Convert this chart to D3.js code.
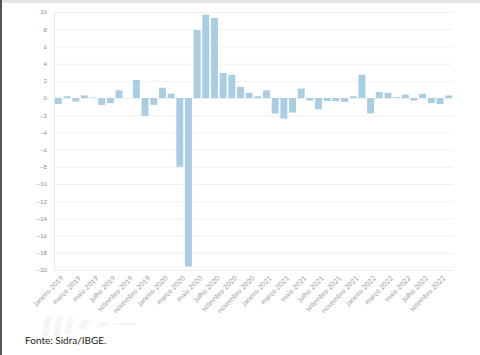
<!DOCTYPE html>
<html>
<head>
<meta charset="utf-8">
<script src="https://cdn.jsdelivr.net/npm/d3@7"></script>
<style>
  body { margin: 0; background: #fff; }
  svg { display: block; }
</style>
</head>
<body>
<div id="chart"></div>
<script>
// variação mensal (%) - jan/2019 a out/2022
var meses = ['janeiro', 'fevereiro', 'março', 'abril', 'maio', 'junho', 'julho', 'agosto', 'setembro', 'outubro', 'novembro', 'dezembro']
var anos = [2019, 2020, 2021, 2022]
var valores = [
  -0.7, 0.2, -0.4, 0.3, 0.05, -0.8, -0.6, 0.9, 0, 2.1, -2.1, -0.8,
  1.2, 0.5, -8.0, -19.6, 7.9, 9.7, 9.3, 2.9, 2.7, 1.3, 0.6, 0.2,
  0.9, -1.8, -2.4, -1.7, 1.1, -0.3, -1.3, -0.35, -0.35, -0.45, 0.2, 2.7,
  -1.8, 0.7, 0.6, 0.1, 0.4, -0.3, 0.5, -0.6, -0.7, 0.3
]
var yTicks = [10, 8, 6, 4, 2, 0, -2, -4, -6, -8, -10, -12, -14, -16, -18, -20]

var rotulos = []
anos.forEach(function(a) {
  meses.forEach(function(m) { rotulos.push(m + ' ' + a) })
})
rotulos = rotulos.slice(0, valores.length)
var data = valores.map(function(v, i) { return {'name': rotulos[i], 'valor': v} })

var width = 480
var height = 355

var svg = d3.select('#chart')
  .append('svg')
    .attr('width', width)
    .attr('height', height)

// moldura da captura
svg.append('rect').attr('x', 0).attr('y', 0).attr('width', width).attr('height', 3).attr('fill', '#e6e6e6')
svg.append('rect').attr('x', 0).attr('y', 0).attr('width', 2).attr('height', height).attr('fill', '#555')

var x = d3.scaleBand()
  .domain(rotulos)
  .range([54, 453])
  .paddingInner(0.2)
  .paddingOuter(0.1)

var y = d3.scaleLinear()
  .domain([-20, 10])
  .range([270, 12])

// grade
svg.append('g')
  .selectAll('line')
  .data(yTicks)
  .enter().append('line')
    .attr('x1', 54)
    .attr('x2', 453)
    .attr('y1', function(d) { return y(d) + 0.5 })
    .attr('y2', function(d) { return y(d) + 0.5 })
    .attr('stroke', '#f0f0f0')
    .attr('stroke-width', 1)

// eixo y
var yAxis = svg.append('g')
  .attr('transform', 'translate(54,0)')
  .call(d3.axisLeft(y).tickValues(yTicks).tickSize(0).tickPadding(7))
yAxis.select('.domain').attr('stroke', '#e8e8e8')
yAxis.selectAll('text')
  .style('font-family', 'Lato, sans-serif')
  .style('font-size', '6px')
  .attr('fill', '#8c8c8c')

// barras
svg.append('g')
  .selectAll('rect')
  .data(data)
  .enter().append('rect')
    .attr('x', function(d) { return x(d.name) })
    .attr('width', x.bandwidth())
    .attr('y', function(d) { return y(Math.max(0, d.valor)) })
    .attr('height', function(d) { return Math.abs(y(d.valor) - y(0)) })
    .attr('fill', '#a9cde3')

// eixo x
var xAxis = svg.append('g')
  .attr('transform', 'translate(0,270)')
  .call(d3.axisBottom(x)
    .tickValues(rotulos.filter(function(d, i) { return i % 2 == 0 }))
    .tickSize(0)
    .tickPadding(0))
xAxis.select('.domain').attr('stroke', '#ececec')
xAxis.selectAll('text')
  .style('font-family', 'Lato, sans-serif')
  .style('font-size', '7px')
  .attr('fill', '#a0a0a0')
  .style('text-anchor', 'end')
  .attr('x', 0)
  .attr('y', 0)
  .attr('dy', '0.35em')
  .attr('transform', 'translate(4,7) rotate(-45)')

// marca d'agua
var marca = svg.append('g').attr('fill', '#f5f5f5')
var blocos = [[42, 316, 6, 20], [53, 316, 6, 20], [64, 318, 6, 16], [78, 320, 8, 10], [96, 322, 10, 5], [112, 323, 22, 2]]
blocos.forEach(function(b) {
  marca.append('path')
    .attr('d', 'M' + b[0] + ',' + (b[1] + b[3]) + 'l' + b[2] + ',0l4,-' + b[3] + 'l-' + b[2] + ',0z')
})

svg.append('text')
  .attr('x', 25)
  .attr('y', 344)
  .text('Fonte: Sidra/IBGE.')
  .style('font-family', 'Lato, sans-serif')
  .style('font-size', '10px')
  .attr('fill', '#222')
</script>
</body>
</html>
